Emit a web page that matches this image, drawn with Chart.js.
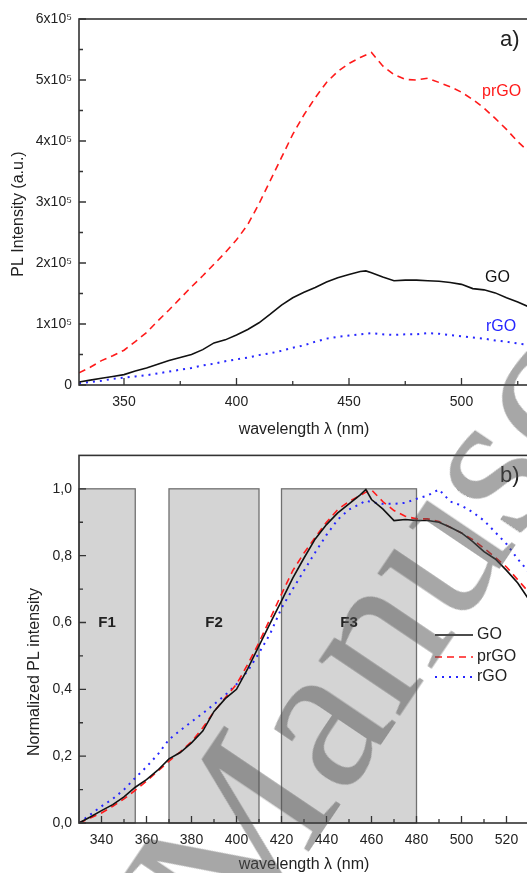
<!DOCTYPE html>
<html>
<head>
<meta charset="utf-8">
<title>PL spectra of GO, prGO and rGO</title>
<script src="https://cdn.jsdelivr.net/npm/chart.js@4.4.1/dist/chart.umd.min.js"></script>
<style>
    html, body { margin: 0; padding: 0; background: #fff; }
    #wrap { position: relative; width: 527px; height: 873px; overflow: hidden; }
    #topChart { position: absolute; left: 0; top: 0; }
    #bottomChart { position: absolute; left: 0; top: 440px; }
    #watermark {
        position: absolute; left: 88px; top: 857px;
        transform: rotate(-56deg); transform-origin: 0 0;
        font: 215px "Liberation Serif", serif; line-height: 1;
        color: rgba(80, 80, 80, 0.5); white-space: nowrap; pointer-events: none;
    }
</style>
</head>
<body>
<div id="wrap">
    <canvas id="topChart" width="540" height="440"></canvas>
    <canvas id="bottomChart" width="540" height="433"></canvas>
    <div id="watermark">Manuscript</div>
</div>
<script>
// Wavelength axis (nm) shared by every curve.
const wavelengths = [330, 335, 340, 345, 350, 355, 360, 365, 370, 375,
    380, 385, 390, 395, 400, 405, 410, 415, 420, 425,
    430, 435, 440, 445, 450, 455, 457.5, 460, 465, 470,
    475, 480, 485, 490, 495, 500, 505, 510, 515, 520,
    525, 530];

// a) PL intensity, in units of 10^5 a.u.
const prgoPL = [0.20, 0.29, 0.40, 0.48, 0.57, 0.71, 0.86, 1.05, 1.23, 1.42,
    1.61, 1.79, 1.98, 2.17, 2.38, 2.63, 2.97, 3.35, 3.73, 4.11,
    4.43, 4.71, 4.96, 5.14, 5.27, 5.37, 5.41, 5.45, 5.23, 5.09,
    5.01, 5.00, 5.03, 4.96, 4.89, 4.80, 4.68, 4.54, 4.37, 4.19,
    3.99, 3.82];
const goPL = [0.05, 0.08, 0.11, 0.14, 0.17, 0.23, 0.28, 0.34, 0.40, 0.45,
    0.50, 0.58, 0.69, 0.74, 0.82, 0.91, 1.02, 1.16, 1.31, 1.43,
    1.52, 1.60, 1.69, 1.76, 1.81, 1.86, 1.87, 1.84, 1.77, 1.71,
    1.72, 1.72, 1.71, 1.70, 1.68, 1.65, 1.58, 1.56, 1.51, 1.43,
    1.36, 1.28];
const rgoPL = [0.03, 0.05, 0.07, 0.10, 0.12, 0.14, 0.16, 0.19, 0.22, 0.25,
    0.28, 0.32, 0.35, 0.39, 0.42, 0.45, 0.49, 0.52, 0.56, 0.61,
    0.65, 0.71, 0.76, 0.79, 0.81, 0.83, 0.84, 0.85, 0.83, 0.82,
    0.83, 0.83, 0.85, 0.84, 0.82, 0.80, 0.78, 0.76, 0.73, 0.71,
    0.68, 0.66];

// b) normalized PL intensity.
const goNorm = [0, 0.018, 0.037, 0.055, 0.078, 0.107, 0.13, 0.158, 0.192, 0.211,
    0.24, 0.275, 0.334, 0.372, 0.40, 0.462, 0.53, 0.598, 0.665, 0.733,
    0.793, 0.85, 0.893, 0.928, 0.955, 0.982, 0.998, 0.968, 0.94, 0.905,
    0.908, 0.905, 0.905, 0.90, 0.885, 0.868, 0.842, 0.812, 0.79, 0.756,
    0.718, 0.668];
const prgoNorm = [0, 0.015, 0.03, 0.05, 0.072, 0.098, 0.125, 0.155, 0.185, 0.213,
    0.243, 0.285, 0.333, 0.375, 0.415, 0.475, 0.54, 0.612, 0.685, 0.755,
    0.808, 0.855, 0.90, 0.938, 0.962, 0.98, 0.99, 0.997, 0.962, 0.935,
    0.918, 0.91, 0.91, 0.902, 0.885, 0.868, 0.848, 0.822, 0.795, 0.766,
    0.728, 0.69];
const rgoNorm = [0, 0.025, 0.05, 0.072, 0.10, 0.135, 0.168, 0.205, 0.25, 0.277,
    0.303, 0.328, 0.355, 0.383, 0.415, 0.455, 0.508, 0.567, 0.643, 0.70,
    0.755, 0.81, 0.862, 0.908, 0.938, 0.955, 0.965, 0.96, 0.955, 0.955,
    0.958, 0.97, 0.98, 0.998, 0.962, 0.95, 0.93, 0.905, 0.87, 0.835,
    0.79, 0.75];

// Filter bands shaded in panel b).
const filterNames = ['F1', 'F2', 'F3'];
const filterStart = [330, 370, 420];
const filterEnd = [355, 410, 480];
const filterHeight = [1.0, 1.0, 1.0];

// Tick values.
const topXTicks = [350, 400, 450, 500];
const topXMinor = [375, 425, 475, 525];
const topYTicks = [0, 1, 2, 3, 4, 5, 6];
const topYMinor = [0.5, 1.5, 2.5, 3.5, 4.5, 5.5];
const botXTicks = [340, 360, 380, 400, 420, 440, 460, 480, 500, 520];
const botXMinor = [350, 370, 390, 410, 430, 450, 470, 490, 510, 530];
const botYTicks = [0, 0.2, 0.4, 0.6, 0.8, 1.0];
const botYMinor = [0.1, 0.3, 0.5, 0.7, 0.9];

const FONT = '"Liberation Sans", Arial, sans-serif';
const TEXT = '#222';

// Turn a series into {x, y} points.
function points(values) {
    return wavelengths.map((w, i) => ({ x: w, y: values[i] }));
}

// Line styles for the three samples.
function makeDatasets(go, prgo, rgo) {
    return [
        { label: 'GO', data: points(go), borderColor: '#111', borderWidth: 1.6, borderDash: [] },
        { label: 'prGO', data: points(prgo), borderColor: '#ff1a1a', borderWidth: 1.6, borderDash: [7, 5] },
        { label: 'rGO', data: points(rgo), borderColor: '#2626ff', borderWidth: 2, borderDash: [2, 5] }
    ].map(ds => ({ ...ds, pointRadius: 0, tension: 0, fill: false }));
}

// Shaded filter boxes drawn under the curves.
const filterPlugin = {
    id: 'filters',
    beforeDatasetsDraw(chart, args, opts) {
        if (!opts.show) return;
        const { ctx, scales: { x, y } } = chart;
        ctx.save();
        filterNames.forEach((name, i) => {
            const x0 = x.getPixelForValue(filterStart[i]);
            const x1 = x.getPixelForValue(filterEnd[i]);
            const y0 = y.getPixelForValue(filterHeight[i]);
            const y1 = y.getPixelForValue(0);
            ctx.fillStyle = '#d4d4d4';
            ctx.fillRect(x0, y0, x1 - x0, y1 - y0);
            ctx.strokeStyle = '#707070';
            ctx.lineWidth = 1.3;
            ctx.strokeRect(x0, y0, x1 - x0, y1 - y0);
            ctx.fillStyle = TEXT;
            ctx.font = 'bold 15px ' + FONT;
            ctx.textAlign = 'center';
            ctx.textBaseline = 'middle';
            ctx.fillText(name, (x0 + x1) / 2, y.getPixelForValue(0.6));
        });
        ctx.restore();
    }
};

// Box frame, inward ticks, axis titles and text labels.
const framePlugin = {
    id: 'frame',
    afterDatasetsDraw(chart, args, opts) {
        const { ctx, chartArea: a, scales: { x, y } } = chart;
        ctx.save();
        ctx.strokeStyle = '#333';
        ctx.lineWidth = 1.6;
        ctx.strokeRect(a.left, a.top, a.right - a.left, a.bottom - a.top);

        ctx.lineWidth = 1.3;
        ctx.beginPath();
        opts.xMajor.forEach(v => { const p = x.getPixelForValue(v); ctx.moveTo(p, a.bottom); ctx.lineTo(p, a.bottom - 7); });
        opts.xMinor.forEach(v => { const p = x.getPixelForValue(v); ctx.moveTo(p, a.bottom); ctx.lineTo(p, a.bottom - 4); });
        opts.yMajor.forEach(v => { const p = y.getPixelForValue(v); ctx.moveTo(a.left, p); ctx.lineTo(a.left + 7, p); });
        opts.yMinor.forEach(v => { const p = y.getPixelForValue(v); ctx.moveTo(a.left, p); ctx.lineTo(a.left + 4, p); });
        ctx.stroke();

        // axis titles
        ctx.fillStyle = TEXT;
        ctx.font = '16px ' + FONT;
        ctx.textAlign = 'center';
        ctx.textBaseline = 'middle';
        ctx.fillText('wavelength \u03bb (nm)', (a.left + a.right) / 2, a.bottom + opts.xTitleGap);
        ctx.save();
        ctx.translate(opts.yTitleX, opts.yTitleY);
        ctx.rotate(-Math.PI / 2);
        ctx.fillText(opts.yTitle, 0, 0);
        ctx.restore();

        // panel letter
        ctx.font = '22px ' + FONT;
        ctx.textAlign = 'left';
        ctx.fillText(opts.panel, 500, a.top + 21);

        // curve labels (panel a) or legend (panel b)
        ctx.font = '16px ' + FONT;
        chart.data.datasets.forEach((ds, i) => {
            const pos = opts.labels[i];
            if (opts.legend) {
                ctx.strokeStyle = ds.borderColor;
                ctx.lineWidth = ds.borderWidth;
                ctx.setLineDash(ds.borderDash);
                ctx.beginPath();
                ctx.moveTo(435, pos);
                ctx.lineTo(473, pos);
                ctx.stroke();
                ctx.setLineDash([]);
                ctx.fillStyle = TEXT;
                ctx.fillText(ds.label, 477, pos);
            } else {
                ctx.fillStyle = ds.borderColor;
                ctx.fillText(ds.label, pos[0], pos[1]);
            }
        });
        ctx.restore();
    }
};

// Build one panel.
function makeChart(id, cfg) {
    const tickFont = { family: FONT, size: 14 };
    return new Chart(document.getElementById(id).getContext('2d'), {
        type: 'line',
        data: { datasets: cfg.datasets },
        options: {
            responsive: false,
            animation: false,
            devicePixelRatio: 1,
            layout: { padding: { top: cfg.padTop, right: 11, bottom: 0, left: 0 } },
            scales: {
                x: {
                    type: 'linear', min: 330, max: 530,
                    grid: { display: false, drawTicks: false },
                    border: { display: false },
                    ticks: { padding: 9, color: TEXT, font: tickFont, maxRotation: 0, autoSkip: false },
                    afterBuildTicks: ax => { ax.ticks = cfg.xTicks.map(v => ({ value: v })); },
                    afterFit: ax => { ax.height = cfg.xHeight; }
                },
                y: {
                    min: 0, max: cfg.yMax,
                    grid: { display: false, drawTicks: false },
                    border: { display: false },
                    ticks: { padding: 7, color: TEXT, font: tickFont, callback: cfg.yFormat },
                    afterBuildTicks: ax => { ax.ticks = cfg.yTicks.map(v => ({ value: v })); },
                    afterFit: ax => { ax.width = 79; }
                }
            },
            plugins: {
                legend: { display: false },
                tooltip: { enabled: false },
                filters: { show: cfg.filters },
                frame: cfg.frame
            }
        },
        plugins: [filterPlugin, framePlugin]
    });
}

makeChart('topChart', {
    datasets: makeDatasets(goPL, prgoPL, rgoPL),
    padTop: 19, xHeight: 55, yMax: 6,
    xTicks: topXTicks, yTicks: topYTicks,
    yFormat: v => (v === 0 ? '0' : v + 'x10\u2075'),
    filters: false,
    frame: {
        xMajor: topXTicks, xMinor: topXMinor, yMajor: topYTicks, yMinor: topYMinor,
        xTitleGap: 45, yTitle: 'PL Intensity (a.u.)', yTitleX: 19, yTitleY: 214,
        panel: 'a)', legend: false,
        labels: [[485, 278], [482, 92], [486, 327]]
    }
});

makeChart('bottomChart', {
    datasets: makeDatasets(goNorm, prgoNorm, rgoNorm),
    padTop: 13, xHeight: 50, yMax: 1.1,
    xTicks: botXTicks, yTicks: botYTicks,
    yFormat: v => v.toFixed(1).replace('.', ','),
    filters: true,
    frame: {
        xMajor: botXTicks, xMinor: botXMinor, yMajor: botYTicks, yMinor: botYMinor,
        xTitleGap: 42, yTitle: 'Normalized PL intensity', yTitleX: 35, yTitleY: 232,
        panel: 'b)', legend: true,
        labels: [195, 217, 237]
    }
});
</script>
</body>
</html>
